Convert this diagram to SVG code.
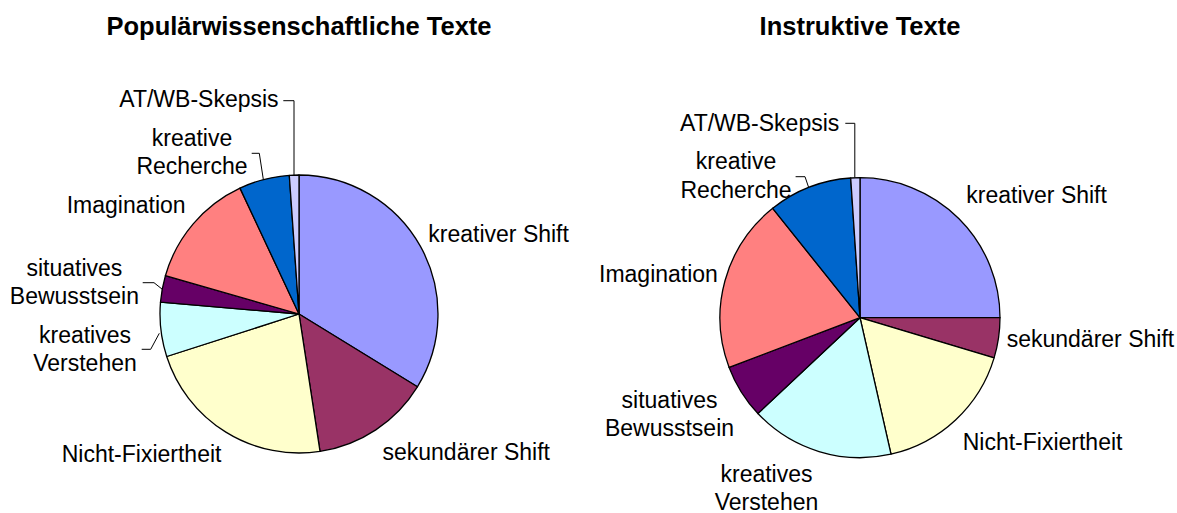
<svg xmlns="http://www.w3.org/2000/svg" width="1177" height="513" viewBox="0 0 1177 513">
<style>
.t{font-family:"Liberation Sans",Arial,sans-serif;font-size:25.5px;font-weight:bold;fill:#000;text-anchor:middle}
.l{font-family:"Liberation Sans",Arial,sans-serif;font-size:23px;fill:#000}
.m{text-anchor:middle}
.s{stroke:#000;stroke-width:1.3;stroke-linejoin:round}
.ks{fill:#9999FF}.ss{fill:#993366}.nf{fill:#FFFFCC}.kv{fill:#CCFFFF}.sb{fill:#660066}.im{fill:#FF8080}.kr{fill:#0066CC}.at{fill:#CCCCFF}
.ld{fill:none;stroke:#000;stroke-width:1}
</style>
<rect width="1177" height="513" fill="#fff"/>
<g id="chart1">
<text class="t" x="299" y="35">Populärwissenschaftliche Texte</text>
<g id="c1-kreativer-shift"><path class="s ks" d="M299,314 L299,175 A139,139 0 0 1 417.4,386.8 Z"/><text class="l" x="428.3" y="241.7">kreativer Shift</text></g>
<g id="c1-sekundaerer-shift"><path class="s ss" d="M299,314 L417.4,386.8 A139,139 0 0 1 320,451.4 Z"/><text class="l" x="382.5" y="460">sekundärer Shift</text></g>
<g id="c1-nicht-fixiertheit"><path class="s nf" d="M299,314 L320,451.4 A139,139 0 0 1 166.7,356.5 Z"/><text class="l" x="61.7" y="462">Nicht-Fixiertheit</text></g>
<g id="c1-kreatives-verstehen"><path class="s kv" d="M299,314 L166.7,356.5 A139,139 0 0 1 160.5,302.1 Z"/><text class="l m" x="85" y="343.3">kreatives</text><text class="l m" x="85" y="371">Verstehen</text></g>
<g id="c1-situatives-bewusstsein"><path class="s sb" d="M299,314 L160.5,302.1 A139,139 0 0 1 165.4,275.7 Z"/><text class="l m" x="74.4" y="276">situatives</text><text class="l m" x="74.4" y="304">Bewusstsein</text></g>
<g id="c1-imagination"><path class="s im" d="M299,314 L165.4,275.7 A139,139 0 0 1 240,188.1 Z"/><text class="l" x="66.7" y="213.3">Imagination</text></g>
<g id="c1-kreative-recherche"><path class="s kr" d="M299,314 L240,188.1 A139,139 0 0 1 289.3,175.3 Z"/><text class="l m" x="192" y="146">kreative</text><text class="l m" x="192" y="174.3">Recherche</text></g>
<g id="c1-at-wb-skepsis"><path class="s at" d="M299,314 L289.3,175.3 A139,139 0 0 1 299,175 Z"/><text class="l" x="119.3" y="106.7">AT/WB-Skepsis</text></g>
</g>
<g id="chart2">
<text class="t" x="860" y="35">Instruktive Texte</text>
<g id="c2-kreativer-shift"><path class="s ks" d="M860,317.7 L860,177.7 A140,140 0 0 1 1000,317.7 Z"/><text class="l" x="966.3" y="203">kreativer Shift</text></g>
<g id="c2-sekundaerer-shift"><path class="s ss" d="M860,317.7 L1000,317.7 A140,140 0 0 1 994.1,357.9 Z"/><text class="l" x="1006.7" y="346.7">sekundärer Shift</text></g>
<g id="c2-nicht-fixiertheit"><path class="s nf" d="M860,317.7 L994.1,357.9 A140,140 0 0 1 891,454.2 Z"/><text class="l" x="962.7" y="449.5">Nicht-Fixiertheit</text></g>
<g id="c2-kreatives-verstehen"><path class="s kv" d="M860,317.7 L891,454.2 A140,140 0 0 1 757.9,413.5 Z"/><text class="l m" x="766.5" y="481.7">kreatives</text><text class="l m" x="766.5" y="510">Verstehen</text></g>
<g id="c2-situatives-bewusstsein"><path class="s sb" d="M860,317.7 L757.9,413.5 A140,140 0 0 1 729.1,367.4 Z"/><text class="l m" x="669.5" y="407.5">situatives</text><text class="l m" x="669.5" y="436">Bewusstsein</text></g>
<g id="c2-imagination"><path class="s im" d="M860,317.7 L729.1,367.4 A140,140 0 0 1 772.7,208.3 Z"/><text class="l" x="599" y="282">Imagination</text></g>
<g id="c2-kreative-recherche"><path class="s kr" d="M860,317.7 L772.7,208.3 A140,140 0 0 1 850.7,178 Z"/><text class="l m" x="736" y="169">kreative</text><text class="l m" x="736" y="198.3">Recherche</text></g>
<g id="c2-at-wb-skepsis"><path class="s at" d="M860,317.7 L850.7,178 A140,140 0 0 1 860,177.7 Z"/><text class="l" x="680" y="130.5">AT/WB-Skepsis</text></g>
</g>
<g id="connectors">
<polyline class="ld" points="283.3,100.7 294,100.7 294,175"/>
<polyline class="ld" points="251.7,153.3 259.3,153.3 263.3,179.3"/>
<polyline class="ld" points="142.7,282.7 154,282.7 162.3,289.3"/>
<polyline class="ld" points="141.7,349.3 150.7,349.3 159.3,333.3"/>
<polyline class="ld" points="845.3,123.3 854.8,123.3 854.8,177.5"/>
<polyline class="ld" points="795.6,176.7 805,176.7 808.5,187"/>
</g>
</svg>
